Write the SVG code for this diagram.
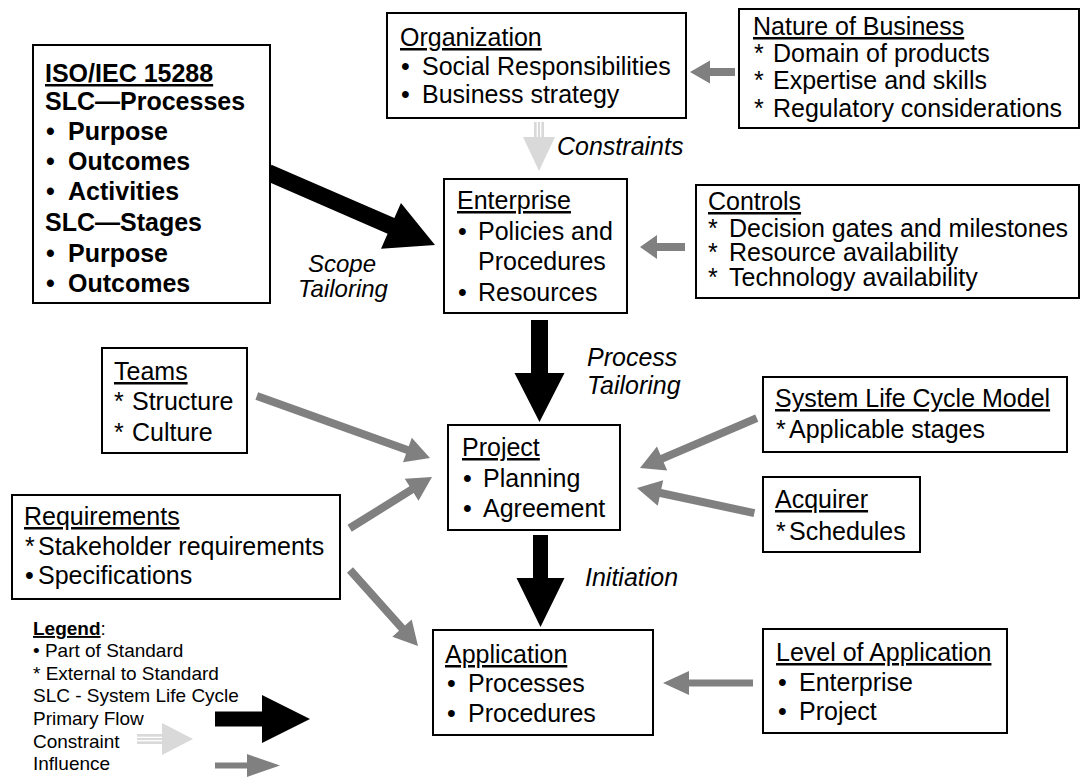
<svg xmlns="http://www.w3.org/2000/svg" width="1080" height="778" viewBox="0 0 1080 778">
<style>
.box{fill:#fff;stroke:#000;stroke-width:2}
.t{font-family:"Liberation Sans",Arial,sans-serif;font-size:25px;fill:#000}
.s{font-size:24px}
.b{font-weight:bold}
.i{font-style:italic}
.u{text-decoration:underline}
.lg{font-family:"Liberation Sans",Arial,sans-serif;font-size:19px;fill:#000}
.infl{fill:#808080}
.prim{fill:#000}
.cons{fill:#d9d9d9}
.stripe{stroke:#fff;stroke-width:1.3}
</style>
<rect width="1080" height="778" fill="#fff"/>

<g id="connectors">
  <!-- influence arrows -->
  <polygon class="infl" points="-45,-4 -20,-4 -20,-11.5 0,0 -20,11.5 -20,4 -45,4" transform="translate(690,72) rotate(180)"/>
  <polygon class="infl" points="-45,-4 -17,-4 -17,-12 0,0 -17,12 -17,4 -45,4" transform="translate(640,247) rotate(180)"/>
  <polygon class="infl" points="-184,-4 -24,-4 -24,-13 0,0 -24,13 -24,4 -184,4" transform="translate(430,458) rotate(19.71)"/>
  <polygon class="infl" points="-97,-4 -24,-4 -24,-13 0,0 -24,13 -24,4 -97,4" transform="translate(432,477) rotate(-31.88)"/>
  <polygon class="infl" points="-102,-4 -24,-4 -24,-13 0,0 -24,13 -24,4 -102,4" transform="translate(418,646) rotate(48.18)"/>
  <polygon class="infl" points="-127,-4 -24,-4 -24,-13 0,0 -24,13 -24,4 -127,4" transform="translate(640,468) rotate(156.86)"/>
  <polygon class="infl" points="-120,-4 -24,-4 -24,-13 0,0 -24,13 -24,4 -120,4" transform="translate(637,488) rotate(-167.94)"/>
  <polygon class="infl" points="-90,-3.5 -26,-3.5 -26,-12 0,0 -26,12 -26,3.5 -90,3.5" transform="translate(663,683) rotate(180)"/>
  <!-- primary flow arrows -->
  <polygon class="prim" points="-182,-8.5 -48,-8.5 -48,-25 0,0 -48,25 -48,8.5 -182,8.5" transform="translate(435,245) rotate(23.5)"/>
  <polygon class="prim" points="-102,-8.5 -49,-8.5 -49,-25 0,0 -49,25 -49,8.5 -102,8.5" transform="translate(539.5,422) rotate(90)"/>
  <polygon class="prim" points="-92,-7.5 -49,-7.5 -49,-24 0,0 -49,24 -49,7.5 -92,7.5" transform="translate(540.5,627) rotate(90)"/>
  <!-- constraint arrow -->
  <g id="constraint-arrow">
    <rect class="cons" x="534" y="122" width="10" height="15"/>
    <line class="stripe" x1="537.3" y1="122" x2="537.3" y2="137"/>
    <line class="stripe" x1="540.7" y1="122" x2="540.7" y2="137"/>
    <polygon class="cons" points="523,137 555,137 539,171"/>
  </g>
</g>

<g id="iso">
  <rect class="box" x="33" y="45" width="237" height="258"/>
  <text class="t b u" x="45" y="82">ISO/IEC 15288</text>
  <text class="t b" x="45" y="110">SLC—Processes</text>
  <text class="t b" y="140"><tspan x="46">•</tspan><tspan x="68">Purpose</tspan></text>
  <text class="t b" y="170"><tspan x="46">•</tspan><tspan x="68">Outcomes</tspan></text>
  <text class="t b" y="200"><tspan x="46">•</tspan><tspan x="68">Activities</tspan></text>
  <text class="t b" x="45" y="231">SLC—Stages</text>
  <text class="t b" y="262"><tspan x="46">•</tspan><tspan x="68">Purpose</tspan></text>
  <text class="t b" y="292"><tspan x="46">•</tspan><tspan x="68">Outcomes</tspan></text>
</g>

<g id="organization">
  <rect class="box" x="387" y="13" width="299" height="105"/>
  <text class="t u" x="400" y="46">Organization</text>
  <text class="t" y="75"><tspan x="401">•</tspan><tspan x="422">Social Responsibilities</tspan></text>
  <text class="t" y="103"><tspan x="401">•</tspan><tspan x="422">Business strategy</tspan></text>
</g>

<g id="nature">
  <rect class="box" x="739" y="9" width="340" height="119"/>
  <text class="t u" x="753" y="35">Nature of Business</text>
  <text class="t" y="62"><tspan x="754">*</tspan><tspan x="773">Domain of products</tspan></text>
  <text class="t" y="89"><tspan x="754">*</tspan><tspan x="773">Expertise and skills</tspan></text>
  <text class="t" y="117"><tspan x="754">*</tspan><tspan x="773">Regulatory considerations</tspan></text>
</g>

<g id="enterprise">
  <rect class="box" x="444" y="179" width="183" height="134"/>
  <text class="t u" x="457" y="209">Enterprise</text>
  <text class="t" y="240"><tspan x="458">•</tspan><tspan x="478">Policies and</tspan></text>
  <text class="t" x="478" y="270">Procedures</text>
  <text class="t" y="301"><tspan x="458">•</tspan><tspan x="478">Resources</tspan></text>
</g>

<g id="controls">
  <rect class="box" x="696" y="185" width="383" height="113"/>
  <text class="t u" x="708" y="210">Controls</text>
  <text class="t" y="237"><tspan x="708">*</tspan><tspan x="729">Decision gates and milestones</tspan></text>
  <text class="t" y="261"><tspan x="708">*</tspan><tspan x="729">Resource availability</tspan></text>
  <text class="t" y="286"><tspan x="708">*</tspan><tspan x="729">Technology availability</tspan></text>
</g>

<g id="labels">
  <text class="t i" x="557" y="155">Constraints</text>
  <text class="t i s" x="342" y="272" text-anchor="middle">Scope</text>
  <text class="t i s" x="343" y="297" text-anchor="middle">Tailoring</text>
  <text class="t i" x="587" y="366">Process</text>
  <text class="t i" x="587" y="394">Tailoring</text>
  <text class="t i" x="585" y="586">Initiation</text>
</g>

<g id="teams">
  <rect class="box" x="102" y="348" width="145" height="105"/>
  <text class="t u" x="114" y="380">Teams</text>
  <text class="t" y="410"><tspan x="114">*</tspan><tspan x="132">Structure</tspan></text>
  <text class="t" y="441"><tspan x="114">*</tspan><tspan x="132">Culture</tspan></text>
</g>

<g id="project">
  <rect class="box" x="448" y="425" width="172" height="105"/>
  <text class="t u" x="462" y="456">Project</text>
  <text class="t" y="487"><tspan x="463">•</tspan><tspan x="483">Planning</tspan></text>
  <text class="t" y="517"><tspan x="463">•</tspan><tspan x="483">Agreement</tspan></text>
</g>

<g id="requirements">
  <rect class="box" x="12" y="495" width="328" height="104"/>
  <text class="t u" x="24" y="525">Requirements</text>
  <text class="t" y="555"><tspan x="25">*</tspan><tspan x="38">Stakeholder requirements</tspan></text>
  <text class="t" y="584"><tspan x="25">•</tspan><tspan x="38">Specifications</tspan></text>
</g>

<g id="slcm">
  <rect class="box" x="763" y="377" width="304" height="75"/>
  <text class="t u" x="775" y="407">System Life Cycle Model</text>
  <text class="t" y="438"><tspan x="776">*</tspan><tspan x="789">Applicable stages</tspan></text>
</g>

<g id="acquirer">
  <rect class="box" x="763" y="477" width="157" height="75"/>
  <text class="t u" x="775" y="508">Acquirer</text>
  <text class="t" y="540"><tspan x="776">*</tspan><tspan x="789">Schedules</tspan></text>
</g>

<g id="application">
  <rect class="box" x="433" y="630" width="220" height="105"/>
  <text class="t u" x="445" y="663">Application</text>
  <text class="t" y="692"><tspan x="447">•</tspan><tspan x="468">Processes</tspan></text>
  <text class="t" y="722"><tspan x="447">•</tspan><tspan x="468">Procedures</tspan></text>
</g>

<g id="level">
  <rect class="box" x="763" y="629" width="244" height="104"/>
  <text class="t u" x="776" y="661">Level of Application</text>
  <text class="t" y="691"><tspan x="778">•</tspan><tspan x="799">Enterprise</tspan></text>
  <text class="t" y="720"><tspan x="778">•</tspan><tspan x="799">Project</tspan></text>
</g>

<g id="legend">
  <text class="lg" x="33" y="635"><tspan font-weight="bold" text-decoration="underline">Legend</tspan>:</text>
  <text class="lg" x="33" y="657">• Part of Standard</text>
  <text class="lg" x="33" y="680">* External to Standard</text>
  <text class="lg" x="33" y="702">SLC - System Life Cycle</text>
  <text class="lg" x="33" y="725">Primary Flow</text>
  <text class="lg" x="33" y="748">Constraint</text>
  <text class="lg" x="33" y="770">Influence</text>
  <polygon class="prim" points="215,711.5 262,711.5 262,695 310,719 262,743 262,726.5 215,726.5"/>
  <rect class="cons" x="137" y="734" width="25" height="10"/>
  <line class="stripe" x1="137" y1="737.3" x2="162" y2="737.3"/>
  <line class="stripe" x1="137" y1="740.7" x2="162" y2="740.7"/>
  <polygon class="cons" points="162,723 193,739 162,755"/>
  <polygon class="infl" points="215,762.5 247,762.5 247,754 280,765.5 247,777 247,768.5 215,768.5"/>
</g>
</svg>
